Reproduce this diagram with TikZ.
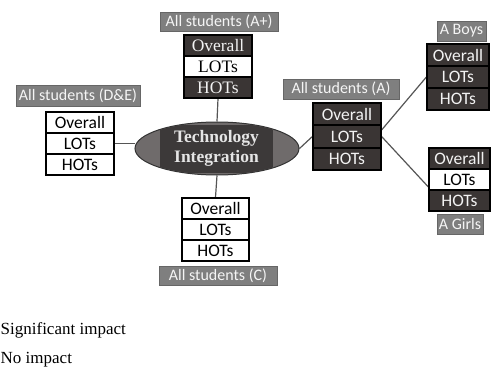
\documentclass[tikz,border=0pt]{standalone}
\usepackage{fontspec}
\setmainfont{Liberation Serif}
\setsansfont{Carlito}
\usetikzlibrary{shapes.geometric}
\pgfdeclarelayer{bg}
\pgfsetlayers{bg,main}
\definecolor{darkcell}{HTML}{3A3534}
\definecolor{labelgray}{HTML}{7F7F7F}
\definecolor{ellgray}{HTML}{6F6B6B}
\definecolor{ellinner}{HTML}{3C3939}
\definecolor{linegray}{HTML}{555555}
\tikzset{
  cell/.style={draw=black, line width=1.2pt, inner sep=0pt, minimum height=21pt,
    font=\sffamily\fontsize{17.5}{19}\selectfont},
  dk/.style={cell, fill=darkcell, text=white!95!black},
  lt/.style={cell, fill=white, text=black},
  serifcell/.style={font=\rmfamily\fontsize{17.5}{19}\selectfont},
  lbl/.style={draw=black!60, line width=0.8pt, fill=labelgray, text=white!96!black, inner sep=0pt,
    font=\sffamily\fontsize{16}{17}\selectfont},
  conn/.style={draw=linegray, line width=1.2pt},
  legend/.style={anchor=west, inner sep=0pt, font=\rmfamily\fontsize{17}{19}\selectfont}
}
\begin{document}
\begin{tikzpicture}[x=1pt, y=-1pt]
\useasboundingbox (0,0) rectangle (491,367);

% central ellipse
\node[ellipse, draw=black!80, line width=1pt, fill=ellgray, minimum width=164pt, minimum height=53pt, inner sep=0pt] (te) at (217,148.5) {};
\begin{scope}
  \clip (217,148.5) ellipse [x radius=81.5pt, y radius=26pt];
  \fill[ellinner] (160,125) rectangle (273,173);
\end{scope}
\node[align=center, text=white!90!black, font=\rmfamily\bfseries\fontsize{17.5}{20}\selectfont, inner sep=0pt] (tet) at (216.5,148.5) {Technology\\Integration};

% A+ box (serif)
\node[dk, serifcell, minimum width=68pt] (ap1) at (218,45.5) {Overall};
\node[lt, serifcell, minimum width=68pt] (ap2) at (218,66.5) {LOTs};
\node[dk, serifcell, minimum width=68pt] (ap3) at (218,87.5) {HOTs};
\node[lbl, minimum width=118pt, minimum height=19pt] (apl) at (219,21.5) {All students (A+)};

% D&E box
\node[lt, minimum width=68pt] (de1) at (80,122.5) {Overall};
\node[lt, minimum width=68pt] (de2) at (80,143.5) {LOTs};
\node[lt, minimum width=68pt] (de3) at (80,164.5) {HOTs};
\node[lbl, minimum width=124pt, minimum height=21pt] (del) at (78,96) {All students (D\&E)};

% C box
\node[lt, minimum width=67pt] (c1) at (215.5,208.5) {Overall};
\node[lt, minimum width=67pt] (c2) at (215.5,229.5) {LOTs};
\node[lt, minimum width=67pt] (c3) at (215.5,250.5) {HOTs};
\node[lbl, minimum width=118pt, minimum height=19pt] (cl) at (218,275.5) {All students (C)};

% A box
\node[dk, minimum width=68pt, minimum height=22pt] (a1) at (347,114) {Overall};
\node[dk, minimum width=68pt, minimum height=22pt] (a2) at (347,136.5) {LOTs};
\node[dk, minimum width=68pt, minimum height=22pt] (a3) at (347,159) {HOTs};
\node[lbl, minimum width=116pt, minimum height=20pt] (al) at (341,89) {All students (A)};

% A Boys box
\node[dk, minimum width=62pt, minimum height=22pt] (b1) at (458,55) {Overall};
\node[dk, minimum width=62pt, minimum height=22pt] (b2) at (458,77) {LOTs};
\node[dk, minimum width=62pt, minimum height=22pt] (b3) at (458,99) {HOTs};
\node[lbl, minimum width=49pt, minimum height=20pt] (bl) at (461.5,31) {A Boys};

% A Girls box
\node[dk, minimum width=61pt] (g1) at (459.5,158.5) {Overall};
\node[lt, minimum width=61pt] (g2) at (459.5,179.5) {LOTs};
\node[dk, minimum width=61pt] (g3) at (459.5,200.5) {HOTs};
\node[lbl, minimum width=46pt, minimum height=20pt] (gl) at (460,224) {A Girls};

% connectors
\begin{pgfonlayer}{bg}
\draw[conn] (ap3.south) -- (te.north);
\draw[conn] (de2.east) -- (te.west |- de2.east);
\draw[conn] (te.south) -- (c1.north);
\draw[conn] (te.east) -- (a2.west);
\draw[conn] ([yshift=6.5pt]a2.east) -- (b2.west);
\draw[conn] (a2.east) -- ([yshift=-7.5pt]g2.west);
\end{pgfonlayer}

% legend texts
\node[legend] (sig) at (0.5,330) {Significant impact};
\node[legend] (noi) at (0.5,360) {No impact};
\end{tikzpicture}
\end{document}
